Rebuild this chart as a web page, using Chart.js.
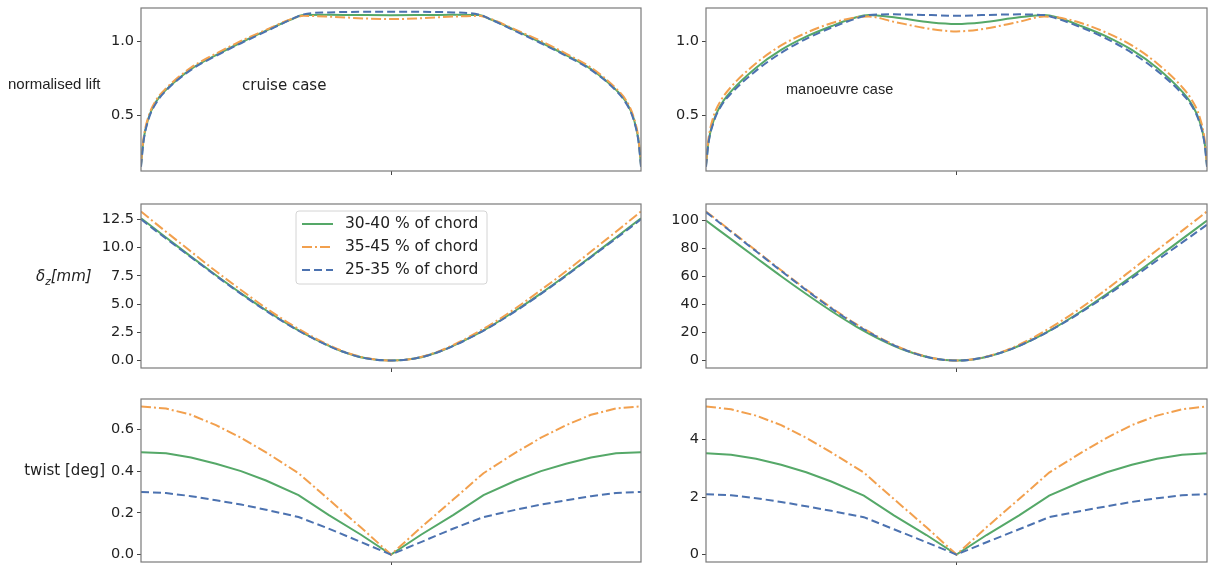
<!DOCTYPE html>
<html>
<head>
<meta charset="utf-8">
<script src="https://cdn.jsdelivr.net/npm/chart.js@4.4.1/dist/chart.umd.min.js"></script>
<style>
body { margin: 0; background: #fff; width: 1208px; height: 565px; position: relative; overflow: hidden; }
canvas { position: absolute; }
.lbl { position: absolute; color: #222; white-space: nowrap; line-height: 1; transform: translateY(-50%); }
</style>
</head>
<body>
<canvas id="c0" width="645" height="180" style="left:0;top:0"></canvas>
<canvas id="c1" width="643" height="180" style="left:565px;top:0"></canvas>
<canvas id="c2" width="645" height="188" style="left:0;top:190px"></canvas>
<canvas id="c3" width="643" height="188" style="left:565px;top:190px"></canvas>
<canvas id="c4" width="645" height="185" style="left:0;top:380px"></canvas>
<canvas id="c5" width="643" height="185" style="left:565px;top:380px"></canvas>

<div class="lbl" style="left:8px;top:83px;font:15px 'Liberation Sans',Arial,sans-serif">normalised lift</div>
<div class="lbl" style="left:36px;top:277px;font:italic 15px 'DejaVu Sans',sans-serif">δ<sub style="font-size:10.5px">z</sub>[mm]</div>
<div class="lbl" style="right:1103px;top:470px;font:15px 'DejaVu Sans',sans-serif">twist [deg]</div>
<div class="lbl" style="left:242px;top:85px;font:15px 'DejaVu Sans',sans-serif">cruise case</div>
<div class="lbl" style="left:786px;top:89px;font:14.5px 'Liberation Sans',Arial,sans-serif">manoeuvre case</div>

<script>
const seriesNames = ['30-40 % of chord', '35-45 % of chord', '25-35 % of chord'];

// spanwise stations
const liftX = [-1, -0.99, -0.97, -0.94, -0.9, -0.8, -0.7, -0.6, -0.5, -0.4, -0.35, -0.25, -0.1, 0, 0.1, 0.25, 0.35, 0.4, 0.5, 0.6, 0.7, 0.8, 0.9, 0.94, 0.97, 0.99, 1];
const deflX = [-1, -0.9, -0.8, -0.7, -0.6, -0.5, -0.4, -0.3, -0.2, -0.1, 0, 0.1, 0.2, 0.3, 0.4, 0.5, 0.6, 0.7, 0.8, 0.9, 1];
const twistX = [-1, -0.9, -0.8, -0.7, -0.6, -0.5, -0.37, -0.25, -0.12, 0, 0.12, 0.25, 0.37, 0.5, 0.6, 0.7, 0.8, 0.9, 1];

// normalised lift, cruise
const cruiseLift3040 = [0.16, 0.33, 0.48, 0.59, 0.67, 0.81, 0.905, 0.99, 1.07, 1.145, 1.175, 1.178, 1.175, 1.174, 1.175, 1.178, 1.175, 1.145, 1.07, 0.99, 0.905, 0.81, 0.67, 0.59, 0.48, 0.33, 0.16];
const cruiseLift3545 = [0.17, 0.34, 0.49, 0.60, 0.68, 0.82, 0.915, 1.0, 1.075, 1.148, 1.17, 1.165, 1.152, 1.148, 1.152, 1.165, 1.17, 1.148, 1.075, 1.0, 0.915, 0.82, 0.68, 0.60, 0.49, 0.34, 0.17];
const cruiseLift2535 = [0.15, 0.32, 0.47, 0.58, 0.665, 0.805, 0.9, 0.985, 1.065, 1.145, 1.18, 1.193, 1.197, 1.197, 1.197, 1.193, 1.18, 1.145, 1.065, 0.985, 0.9, 0.805, 0.665, 0.58, 0.47, 0.32, 0.15];

// normalised lift, manoeuvre
const manLift3040 = [0.16, 0.32, 0.46, 0.57, 0.66, 0.82, 0.94, 1.03, 1.10, 1.16, 1.175, 1.16, 1.125, 1.115, 1.125, 1.16, 1.175, 1.16, 1.10, 1.03, 0.94, 0.82, 0.66, 0.57, 0.46, 0.32, 0.16];
const manLift3545 = [0.17, 0.34, 0.49, 0.60, 0.69, 0.85, 0.97, 1.055, 1.12, 1.16, 1.165, 1.13, 1.08, 1.065, 1.08, 1.13, 1.165, 1.16, 1.12, 1.055, 0.97, 0.85, 0.69, 0.60, 0.49, 0.34, 0.17];
const manLift2535 = [0.15, 0.31, 0.45, 0.56, 0.645, 0.80, 0.92, 1.015, 1.09, 1.152, 1.175, 1.18, 1.175, 1.17, 1.175, 1.18, 1.175, 1.152, 1.09, 1.015, 0.92, 0.80, 0.645, 0.56, 0.45, 0.31, 0.15];

// deflection dz [mm]
const cruiseDz3040 = [12.6, 10.9, 9.2, 7.55, 5.95, 4.45, 3.05, 1.85, 0.85, 0.2, 0, 0.2, 0.85, 1.85, 3.05, 4.45, 5.95, 7.55, 9.2, 10.9, 12.6];
const cruiseDz3545 = [13.2, 11.4, 9.65, 7.9, 6.25, 4.65, 3.2, 1.95, 0.9, 0.22, 0, 0.22, 0.9, 1.95, 3.2, 4.65, 6.25, 7.9, 9.65, 11.4, 13.2];
const cruiseDz2535 = [12.5, 10.8, 9.15, 7.5, 5.9, 4.4, 3.02, 1.83, 0.84, 0.2, 0, 0.2, 0.84, 1.83, 3.02, 4.4, 5.9, 7.5, 9.15, 10.8, 12.5];
const manDz3040 = [100, 86.7, 73.4, 60.2, 47.5, 35.4, 24.3, 14.7, 7.0, 1.9, 0, 1.9, 7.0, 14.7, 24.3, 35.4, 47.5, 60.2, 73.4, 86.7, 100];
const manDz3545 = [106.5, 92.5, 78.5, 64.5, 50.8, 37.8, 26.0, 15.7, 7.5, 2.0, 0, 2.0, 7.5, 15.8, 26.2, 38.0, 51.0, 64.8, 78.8, 92.6, 106.5];
const manDz2535 = [106, 92, 78, 64, 50.3, 37.3, 25.5, 15.3, 7.2, 1.9, 0, 1.9, 7.0, 14.6, 24.0, 34.8, 46.5, 58.8, 71.5, 84.2, 97];

// twist [deg]
const cruiseTw3040 = [0.49, 0.485, 0.465, 0.435, 0.40, 0.355, 0.285, 0.19, 0.095, 0, 0.095, 0.19, 0.285, 0.355, 0.40, 0.435, 0.465, 0.485, 0.49];
const cruiseTw3545 = [0.71, 0.70, 0.67, 0.62, 0.56, 0.49, 0.39, 0.265, 0.13, 0, 0.13, 0.265, 0.39, 0.49, 0.56, 0.62, 0.67, 0.70, 0.71];
const cruiseTw2535 = [0.30, 0.295, 0.28, 0.26, 0.24, 0.215, 0.18, 0.125, 0.06, 0, 0.06, 0.125, 0.18, 0.215, 0.24, 0.26, 0.28, 0.295, 0.30];
const manTw3040 = [3.52, 3.47, 3.33, 3.12, 2.86, 2.54, 2.05, 1.36, 0.68, 0, 0.68, 1.36, 2.05, 2.54, 2.86, 3.12, 3.33, 3.47, 3.52];
const manTw3545 = [5.15, 5.05, 4.83, 4.5, 4.06, 3.55, 2.85, 1.93, 0.95, 0, 0.95, 1.93, 2.85, 3.55, 4.06, 4.5, 4.83, 5.05, 5.15];
const manTw2535 = [2.1, 2.06, 1.96, 1.83, 1.68, 1.52, 1.3, 0.88, 0.43, 0, 0.43, 0.88, 1.3, 1.52, 1.68, 1.83, 1.96, 2.06, 2.1];

// y tick labels
const liftTicks = [0.5, 1.0];
const cruiseDzTicks = [0, 2.5, 5, 7.5, 10, 12.5];
const manDzTicks = [0, 20, 40, 60, 80, 100];
const cruiseTwTicks = [0, 0.2, 0.4, 0.6];
const manTwTicks = [0, 2, 4];

const colors = ['#55a868', '#f2a04e', '#4c72b0'];
const dashes = [[], [10, 3, 2, 3], [8, 4]];

const frame = {
  id: 'frame',
  afterDraw(chart) {
    const a = chart.chartArea, ctx = chart.ctx;
    ctx.save();
    ctx.strokeStyle = '#7a7a7a';
    ctx.lineWidth = 1.2;
    ctx.strokeRect(a.left, a.top, a.right - a.left, a.bottom - a.top);
    ctx.restore();
  }
};

const legendBox = {
  id: 'legendBox',
  afterDraw(chart) {
    const a = chart.chartArea, ctx = chart.ctx;
    const x0 = a.left + 155, y0 = a.top + 7, w = 191, h = 73;
    ctx.save();
    ctx.fillStyle = 'rgba(255,255,255,0.9)';
    ctx.strokeStyle = '#d4d4d4';
    ctx.lineWidth = 1;
    ctx.beginPath();
    ctx.roundRect(x0, y0, w, h, 3);
    ctx.fill();
    ctx.stroke();
    ctx.font = "15.5px 'DejaVu Sans'";
    ctx.textBaseline = 'middle';
    seriesNames.forEach((name, i) => {
      const y = y0 + 13 + i * 23;
      ctx.strokeStyle = colors[i];
      ctx.lineWidth = 2;
      ctx.setLineDash(dashes[i]);
      ctx.beginPath();
      ctx.moveTo(x0 + 6, y);
      ctx.lineTo(x0 + 37, y);
      ctx.stroke();
      ctx.setLineDash([]);
      ctx.fillStyle = '#222';
      ctx.fillText(name, x0 + 49, y);
    });
    ctx.restore();
  }
};

function makeChart(id, xs, ys, yMin, yMax, ticks, decimals, pad, xHeight, smooth, extra) {
  new Chart(document.getElementById(id), {
    type: 'line',
    data: {
      datasets: ys.map((vals, i) => ({
        label: seriesNames[i],
        data: vals.map((v, k) => ({ x: xs[k], y: v })),
        borderColor: colors[i],
        borderDash: dashes[i],
        borderWidth: 2,
        pointRadius: 0,
        fill: false,
        cubicInterpolationMode: smooth ? 'monotone' : 'default',
        tension: 0
      })).reverse()
    },
    options: {
      responsive: false,
      animation: false,
      layout: { padding: pad },
      plugins: { legend: { display: false }, tooltip: { enabled: false } },
      scales: {
        x: {
          type: 'linear', min: -1, max: 1,
          ticks: { display: false },
          grid: { drawOnChartArea: false, drawTicks: true, tickLength: 4, color: '#444' },
          border: { display: false },
          afterBuildTicks: s => { s.ticks = [{ value: 0 }]; },
          afterFit: s => { s.height = xHeight; s.paddingLeft = 0; s.paddingRight = 0; }
        },
        y: {
          type: 'linear', min: yMin, max: yMax,
          ticks: {
            color: '#222', padding: 3,
            font: { family: 'DejaVu Sans', size: 14.5 },
            callback: v => v.toFixed(decimals)
          },
          grid: { drawOnChartArea: false, drawTicks: true, tickLength: 4, color: '#444' },
          border: { display: false },
          afterBuildTicks: s => { s.ticks = ticks.map(v => ({ value: v })); },
          afterFit: s => { s.width = 141; s.paddingTop = 0; s.paddingBottom = 0; }
        }
      }
    },
    plugins: [frame].concat(extra || [])
  });
}

makeChart('c0', liftX, [cruiseLift3040, cruiseLift3545, cruiseLift2535], 0.122, 1.223, liftTicks, 1,
  { top: 8, right: 4, bottom: 0, left: 0 }, 9, true);
makeChart('c1', liftX, [manLift3040, manLift3545, manLift2535], 0.122, 1.223, liftTicks, 1,
  { top: 8, right: 1, bottom: 0, left: 0 }, 9, true);
makeChart('c2', deflX, [cruiseDz3040, cruiseDz3545, cruiseDz2535], -0.66, 13.86, cruiseDzTicks, 1,
  { top: 14, right: 4, bottom: 0, left: 0 }, 10, true, [legendBox]);
makeChart('c3', deflX, [manDz3040, manDz3545, manDz2535], -5.3, 111.8, manDzTicks, 0,
  { top: 14, right: 1, bottom: 0, left: 0 }, 10, true);
makeChart('c4', twistX, [cruiseTw3040, cruiseTw3545, cruiseTw2535], -0.0355, 0.7455, cruiseTwTicks, 1,
  { top: 19, right: 4, bottom: 0, left: 0 }, 3, false);
makeChart('c5', twistX, [manTw3040, manTw3545, manTw2535], -0.2575, 5.4075, manTwTicks, 0,
  { top: 19, right: 1, bottom: 0, left: 0 }, 3, false);
</script>
</body>
</html>
